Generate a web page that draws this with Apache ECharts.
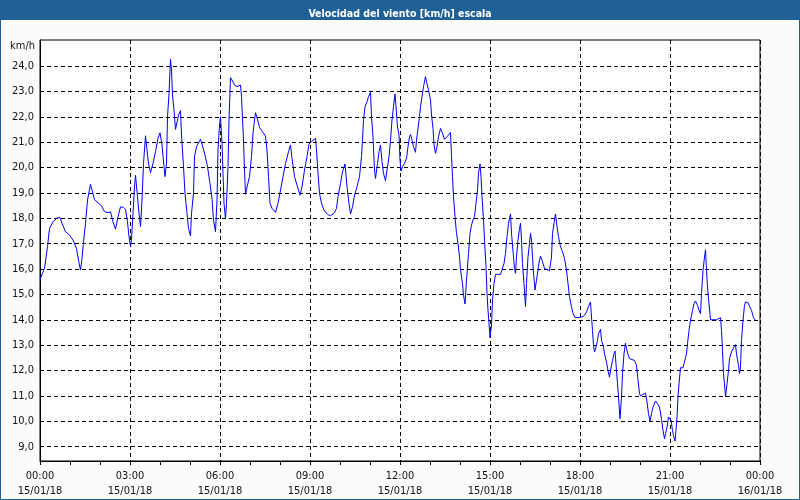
<!DOCTYPE html>
<html>
<head>
<meta charset="utf-8">
<script src="https://cdn.jsdelivr.net/npm/echarts@6/dist/echarts.min.js"></script>
<style>html,body{margin:0;padding:0;background:#fff}#c{width:800px;height:500px}</style>
</head>
<body>
<div id="c"></div>
<script>
// [minutes since 15/01/18 00:00, km/h]
var speed00_06 = [
[0,15.6],[9,16.02],[15,16.88],[19,17.6],[26,17.86],[33,18.0],[40,18.03],[44,17.8],[51,17.47],[59,17.34],[66,17.14],[73,16.81],[77,16.35],[81,15.96],[84,16.42],[87,17.07],[91,17.8],[95,18.72],[101,19.34],[104,19.11],[109,18.74],[116,18.61],[123,18.49],[129,18.26],[136,18.22],[141,18.26],[146,17.86],[151,17.57],[156,18.06],[161,18.45],[167,18.43],[171,18.35],[175,17.86],[178,17.27],[181,16.88],[183,17.17],[186,18.19],[189,19.24],[191,19.7],[195,18.85],[198,18.19],[201,17.67],[204,18.72],[207,20.16],[211,21.25],[214,20.69],[217,20.16],[221,19.8],[226,20.16],[231,20.62],[236,21.15],[240,21.37],[244,20.89],[248,20.03],[250,19.64],[253,20.16],[255,21.98],[258,22.92],[261,24.26],[263,23.84],[265,22.86],[268,22.27],[271,21.5],[275,21.87],[277,22.07],[281,22.24],[283,21.28],[287,20.03],[290,18.98],[294,18.19],[297,17.6],[301,17.3],[303,18.19],[307,18.98],[309,20.43],[313,20.82],[321,21.11],[325,20.85],[330,20.49],[335,20.03],[340,19.37],[344,18.78],[347,17.93],[351,17.47],[354,18.72],[356,20.69]
];
var speed06_12 = [
[359,21.67],[361,22.0],[364,20.95],[366,19.77],[368,18.59],[371,17.97],[373,18.59],[376,20.03],[378,21.87],[381,23.54],[384,23.45],[389,23.25],[394,23.19],[397,23.25],[401,23.25],[403,22.79],[405,21.94],[407,21.08],[409,19.9],[411,18.95],[415,19.31],[419,19.64],[423,20.43],[426,21.35],[429,21.87],[431,22.16],[435,21.9],[439,21.58],[445,21.41],[451,21.24],[454,20.69],[457,19.64],[460,18.59],[464,18.39],[471,18.23],[476,18.59],[481,19.11],[486,19.64],[491,20.16],[497,20.62],[501,20.89],[504,20.36],[509,19.64],[515,19.24],[520,18.91],[524,19.24],[529,19.9],[534,20.43],[538,20.93],[543,21.02],[551,21.15],[553,20.69],[556,19.77],[559,18.98],[563,18.59],[568,18.32],[575,18.15],[581,18.1],[588,18.19],[593,18.39],[596,18.85],[601,19.37],[605,19.83],[610,20.14],[614,19.24],[618,18.59],[621,18.17],[625,18.45],[629,18.91],[634,19.24],[639,19.64],[643,20.43],[645,21.08],[647,21.87],[650,22.4],[654,22.59],[657,22.79],[661,22.96],[663,22.0],[666,21.21],[669,19.9],[671,19.57],[675,20.16],[678,20.62],[681,20.89],[684,20.23],[687,19.77],[691,19.48],[694,19.9],[698,20.43],[701,21.08],[704,21.87],[707,22.4],[710,22.9],[712,22.4],[715,21.6]
];
var speed12_18 = [
[718,21.28],[720,20.29],[722,19.86],[725,20.03],[729,20.16],[733,20.36],[736,20.82],[739,21.21],[741,21.3],[744,21.08],[747,20.82],[751,20.6],[753,21.08],[756,21.54],[759,22.0],[761,22.4],[764,22.79],[767,23.19],[771,23.58],[773,23.38],[777,23.05],[781,22.66],[783,22.07],[786,21.54],[788,20.89],[791,20.56],[794,20.82],[797,21.21],[801,21.54],[805,21.35],[809,21.11],[814,21.21],[817,21.28],[821,21.38],[823,20.43],[825,19.64],[827,18.85],[830,18.06],[833,17.4],[836,17.01],[839,16.48],[841,15.96],[845,15.43],[847,14.97],[850,14.62],[853,15.56],[855,16.09],[857,16.61],[860,17.4],[863,17.73],[866,17.93],[869,18.06],[872,18.59],[875,19.11],[877,19.77],[880,20.14],[882,19.64],[884,18.85],[887,17.93],[889,17.14],[892,16.09],[894,15.04],[896,14.38],[898,13.86],[900,13.29],[903,13.79],[905,14.78],[908,15.43],[911,15.79],[916,15.79],[921,15.79],[924,15.96],[928,16.22],[931,16.61],[934,17.27],[937,17.8],[941,18.17],[943,17.4],[947,16.48],[949,16.02],[951,15.83],[953,16.48],[956,17.14],[959,17.6],[961,17.8],[963,17.14],[965,16.22],[968,15.43],[971,14.51],[973,15.43],[976,16.48],[979,17.01],[981,17.4],[983,17.14],[985,16.48],[987,15.83],[990,15.17],[993,15.56],[997,16.09],[999,16.35],[1001,16.51],[1005,16.29],[1009,16.02],[1014,15.98],[1019,15.93],[1023,16.48],[1025,17.4],[1029,17.93],[1031,18.17],[1034,17.67],[1037,17.27],[1041,16.88],[1045,16.68],[1049,16.42],[1053,15.96],[1056,15.43],[1059,14.91],[1063,14.51],[1066,14.25],[1070,14.09],[1076,14.09]
];
var speed18_24 = [
[1079,14.08],[1084,14.11],[1089,14.17],[1093,14.31],[1097,14.53],[1101,14.7],[1103,14.11],[1105,13.58],[1107,12.99],[1109,12.73],[1112,12.93],[1115,13.19],[1117,13.45],[1121,13.62],[1123,13.19],[1127,12.93],[1129,12.66],[1133,12.33],[1136,12.0],[1139,11.74],[1141,12.0],[1145,12.4],[1148,12.66],[1150,12.77],[1153,12.0],[1155,11.48],[1157,10.96],[1160,10.1],[1163,10.96],[1165,11.88],[1168,12.66],[1171,13.08],[1173,12.86],[1176,12.64],[1179,12.47],[1184,12.43],[1189,12.4],[1193,12.2],[1196,11.61],[1199,11.09],[1201,11.0],[1206,11.06],[1211,11.11],[1214,10.76],[1217,10.3],[1220,10.01],[1223,10.3],[1226,10.56],[1231,10.8],[1235,10.69],[1239,10.56],[1243,10.1],[1246,9.64],[1249,9.31],[1251,9.51],[1254,9.77],[1257,10.17],[1260,10.23],[1262,10.04],[1265,9.64],[1267,9.44],[1270,9.22],[1272,9.64],[1274,10.17],[1276,10.96],[1278,11.48],[1281,12.11],[1286,12.11],[1290,12.14],[1293,12.66],[1295,13.06],[1298,13.58],[1301,13.98],[1305,14.37],[1308,14.63],[1311,14.74],[1315,14.57],[1318,14.37],[1321,14.24],[1323,15.03],[1326,15.95],[1329,16.47],[1331,16.76],[1333,15.95],[1335,15.29],[1338,14.63],[1341,14.0],[1346,14.0],[1353,14.0],[1356,14.04],[1361,14.08],[1363,13.58],[1365,12.8],[1367,11.88],[1370,11.22],[1371,10.96],[1374,11.48],[1377,12.0],[1379,12.47],[1383,12.73],[1387,12.9],[1391,13.02],[1393,12.66],[1397,12.2],[1399,11.88],[1401,12.14],[1403,13.19],[1406,13.98],[1409,14.57],[1411,14.7],[1416,14.67],[1420,14.61],[1423,14.37],[1427,14.08],[1431,13.98]
];
var yTicks = [9,10,11,12,13,14,15,16,17,18,19,20,21,22,23,24];
var xDates = ['15/01/18','16/01/18'];
var titleText = 'Velocidad del viento [km/h] escala';
var unitText = 'km/h';

var FONT = "'DejaVu Sans Condensed', 'Liberation Sans', sans-serif";
var allData = speed00_06.concat(speed06_12, speed12_18, speed18_24);

var chart = echarts.init(document.getElementById('c'), null, {renderer: 'canvas'});
chart.setOption({
  backgroundColor: '#fbfdfb',
  animation: false,
  title: {
    text: titleText, left: 'center', top: 4, z: 10,
    textStyle: {color: '#ffffff', fontSize: 10.5, fontWeight: 'bold', fontFamily: FONT}
  },
  graphic: [
    {type: 'rect', z: 0, shape: {x: 0, y: 0, width: 800, height: 20}, style: {fill: '#1f6096'}},
    {type: 'rect', z: 100, shape: {x: 0.5, y: 0.5, width: 799, height: 499}, style: {fill: 'none', stroke: '#1f6096', lineWidth: 1}}
  ],
  grid: {left: 40, right: 40, top: 40, bottom: 39, show: true, backgroundColor: '#ffffff', borderColor: '#000', borderWidth: 1},
  xAxis: {
    type: 'value', min: 0, max: 1440, interval: 180,
    axisLine: {show: true, lineStyle: {color: '#000', width: 1}},
    axisTick: {show: true, length: 4, lineStyle: {color: '#000'}},
    minorTick: {show: true, splitNumber: 3, length: 4, lineStyle: {color: '#000'}},
    splitLine: {show: true, lineStyle: {color: '#000', type: [4, 3], width: 1}},
    axisLabel: {
      margin: 8, color: '#111', fontSize: 11, fontFamily: FONT, lineHeight: 15,
      showMinLabel: true, showMaxLabel: true,
      formatter: function (v) {
        var d = Math.floor(v / 1440), m = v % 1440;
        var hh = Math.floor(m / 60), mm = m % 60;
        return (hh < 10 ? '0' : '') + hh + ':' + (mm < 10 ? '0' : '') + mm + '\n' + xDates[d];
      }
    }
  },
  yAxis: {
    type: 'value', min: 8.435, max: 25.025,
    name: unitText, nameLocation: 'end', nameGap: -6,
    nameTextStyle: {color: '#111', fontSize: 11, fontFamily: FONT, align: 'right', verticalAlign: 'middle', padding: [0, 5, 0, 0]},
    axisLine: {show: true, lineStyle: {color: '#000', width: 1}},
    axisTick: {show: false, customValues: yTicks},
    splitLine: {show: true, lineStyle: {color: '#000', type: [4, 3], width: 1}},
    axisLabel: {
      customValues: yTicks, margin: 6, color: '#111', fontSize: 11, fontFamily: FONT,
      formatter: function (v) { return v.toFixed(1).replace('.', ','); }
    }
  },
  series: [{
    type: 'line', data: allData, showSymbol: false, symbol: 'none',
    lineStyle: {color: '#0000ff', width: 1}, itemStyle: {color: '#0000ff'}
  }]
});
</script>
</body>
</html>
